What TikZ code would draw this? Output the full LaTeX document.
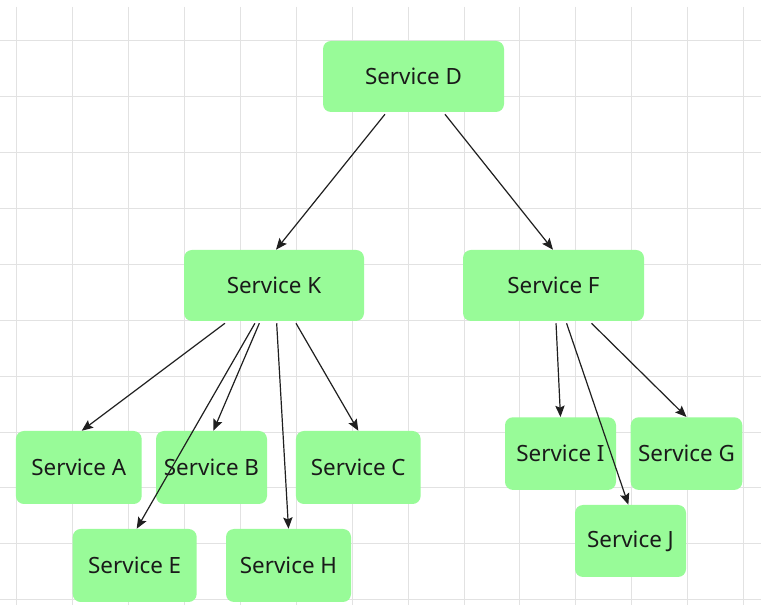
\documentclass[tikz,border=0pt]{standalone}
\usepackage{fontspec}
\setmainfont{Noto Sans}
\usetikzlibrary{arrows.meta}
\definecolor{boxgreen}{HTML}{98FB98}
\definecolor{gridgray}{HTML}{E2E2E2}
\definecolor{txt}{HTML}{1A1A1A}
\tikzset{
  svc/.style={draw=none, fill=boxgreen, rounded corners=6pt, inner sep=0pt,
    font=\fontsize{16.8}{19}\selectfont, text=txt},
  link/.style={-{Stealth[length=8.5pt,width=7pt,inset=1.5pt]}, line width=0.9pt, black!88},
}
\begin{document}
\begin{tikzpicture}[x=0.75pt,y=-0.75pt]
\useasboundingbox (0,0) rectangle (761,605);
\fill[white] (0,0) rectangle (761,605);
% grid
\foreach \k in {0,...,13}{
  \draw[gridgray, line width=0.6pt] ({16.7+55.9*\k},7) -- ({16.7+55.9*\k},605);
}
\foreach \k in {0,...,10}{
  \draw[gridgray, line width=0.6pt] (0,{40.7+55.9*\k}) -- (761,{40.7+55.9*\k});
}
% nodes
\node[svc, minimum width=135.75pt, minimum height=53.25pt] (D) at (413.5,76.5) {Service D};
\node[svc, minimum width=135pt, minimum height=53.25pt] (K) at (274,285.5) {Service K};
\node[svc, minimum width=135.75pt, minimum height=53.25pt] (F) at (553.5,285.5) {Service F};
\node[svc, minimum width=94.3pt, minimum height=54.75pt] (A) at (78.8,467.5) {Service A};
\node[svc, minimum width=83.25pt, minimum height=54.75pt] (B) at (211.5,467.5) {Service B};
\node[svc, minimum width=93.5pt, minimum height=54.75pt] (C) at (358.3,467.5) {Service C};
\node[svc, minimum width=93pt, minimum height=54.75pt] (E) at (134.7,565.5) {Service E};
\node[svc, minimum width=93.75pt, minimum height=54.75pt] (H) at (288.5,565.5) {Service H};
\node[svc, minimum width=83.25pt, minimum height=54.5pt] (I) at (560.5,453.6) {Service I};
\node[svc, minimum width=83.7pt, minimum height=54.5pt] (G) at (686.5,453.6) {Service G};
\node[svc, minimum width=83.25pt, minimum height=54pt] (J) at (630.5,541) {Service J};
% connectors
\draw[link] ([xshift=-21.4pt,yshift=-1.5pt]D.south) -- ([xshift=1.5pt]K.north);
\draw[link] ([xshift=23.6pt,yshift=-1.5pt]D.south) -- ([xshift=-0.4pt]F.north);
\draw[link] ([xshift=-36.8pt,yshift=-1.5pt]K.south) -- ([xshift=2.2pt]A.north);
\draw[link] ([xshift=-14.3pt,yshift=-1.5pt]K.south) -- ([xshift=1.5pt]E.north);
\draw[link] ([xshift=-11pt,yshift=-1.5pt]K.south) -- ([xshift=1.4pt]B.north);
\draw[link] ([xshift=2pt,yshift=-1.5pt]K.south) -- (H.north);
\draw[link] ([xshift=16.5pt,yshift=-1.5pt]K.south) -- (C.north);
\draw[link] ([xshift=1.9pt,yshift=-1.5pt]F.south) -- (I.north);
\draw[link] ([xshift=9.8pt,yshift=-1.5pt]F.south) -- ([xshift=-1.6pt]J.north);
\draw[link] ([xshift=28.5pt,yshift=-1.5pt]F.south) -- (G.north);
\end{tikzpicture}
\end{document}
